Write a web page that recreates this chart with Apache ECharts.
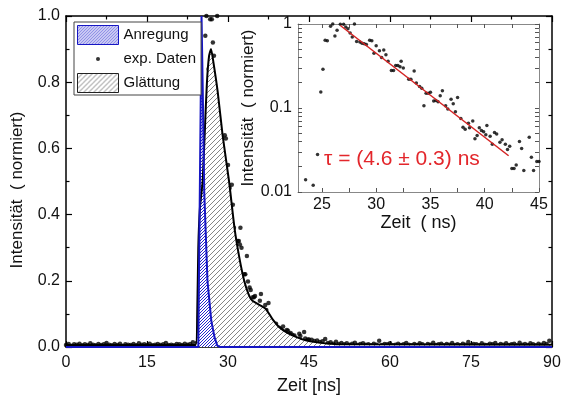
<!doctype html>
<html lang="de">
<head>
    <meta charset="UTF-8">
    <title>Anregung / Glättung</title>
    <script src="https://cdn.jsdelivr.net/npm/echarts@6/dist/echarts.min.js"></script>
    <style>
        html, body { margin: 0; padding: 0; background: #fff; }
        #chart { width: 570px; height: 400px; }
    </style>
</head>
<body>
    <div id="chart"></div>

    <script>
        // Untergrund vor dem Puls: 0 ... 23 ns, Abstand 0.5 ns
        const baseStart = 0;
        const baseStep = 0.5;
        const baseValues = [0.006, 0.009, 0.004, 0.008, 0.007, 0.010, 0.005, 0.008, 0.006, 0.011,
            0.007, 0.005, 0.009, 0.006, 0.008, 0.012, 0.007, 0.005, 0.009, 0.006,
            0.010, 0.004, 0.008, 0.007, 0.006, 0.009, 0.005, 0.011, 0.007, 0.008,
            0.006, 0.010, 0.005, 0.007, 0.009, 0.006, 0.008, 0.012, 0.006, 0.007,
            0.005, 0.009, 0.008, 0.006, 0.010, 0.007, 0.009];

        // Abklingbereich 23.5 ... 45 ns
        const decayTimes = [23.5, 24.2, 24.6, 24.9, 25.1, 25.3, 25.5, 25.8, 26.0, 26.2,
            26.4, 26.7, 27.0, 27.2, 27.4, 27.6, 27.8, 28.0, 28.2, 28.5,
            28.7, 28.9, 29.1, 29.4, 29.6, 29.8, 30.0, 30.3, 30.5, 30.7,
            30.9, 31.1, 31.4, 31.6, 31.8, 32.0, 32.2, 32.3, 32.5, 33.0,
            33.2, 33.5, 33.7, 34.0, 34.2, 34.4, 34.6, 34.8, 35.0, 35.3,
            35.5, 35.7, 35.9, 36.1, 36.4, 36.6, 36.9, 37.1, 37.3, 37.5,
            37.8, 38.0, 38.2, 38.5, 38.6, 38.9, 39.1, 39.3, 39.5, 39.7,
            39.9, 40.1, 40.2, 40.5, 40.7, 40.9, 41.1, 41.4, 41.6, 41.9,
            42.1, 42.3, 42.5, 42.7, 42.9, 43.2, 43.4, 43.6, 44.1, 44.3,
            44.5, 44.8, 45.0];
        const decayValues = [0.014, 0.012, 0.028, 0.155, 0.29, 0.64, 0.63, 0.94, 1.0, 0.72,
            0.84, 0.99, 0.99, 0.92, 0.88, 0.78, 0.70, 1.0, 0.62, 0.61,
            0.59, 0.58, 0.57, 0.64, 0.63, 0.45, 0.55, 0.48, 0.40, 0.49,
            0.43, 0.36, 0.28, 0.28, 0.32, 0.32, 0.31, 0.36, 0.30, 0.22,
            0.22, 0.275, 0.198, 0.18, 0.172, 0.106, 0.15, 0.15, 0.154, 0.121,
            0.123, 0.119, 0.14, 0.16, 0.106, 0.097, 0.127, 0.112, 0.09, 0.133,
            0.075, 0.059, 0.056, 0.066, 0.058, 0.07, 0.043, 0.047, 0.058, 0.054,
            0.052, 0.048, 0.062, 0.046, 0.037, 0.051, 0.049, 0.039, 0.042, 0.037,
            0.032, 0.035, 0.019, 0.019, 0.021, 0.040, 0.033, 0.018, 0.045, 0.026,
            0.018, 0.023, 0.023];

        // Untergrund nach dem Puls: 45.5 ... 89.5 ns, Abstand 0.5 ns
        const tailStart = 45.5;
        const tailStep = 0.5;
        const tailValues = [0.022, 0.018, 0.020, 0.015, 0.017, 0.024, 0.012, 0.014, 0.010, 0.016,
            0.009, 0.012, 0.008, 0.011, 0.007, 0.010, 0.013, 0.006, 0.009, 0.011,
            0.007, 0.008, 0.005, 0.010, 0.007, 0.019, 0.006, 0.009, 0.008, 0.011,
            0.005, 0.007, 0.010, 0.006, 0.008, 0.012, 0.007, 0.005, 0.009, 0.006,
            0.011, 0.008, 0.004, 0.009, 0.007, 0.013, 0.006, 0.008, 0.010, 0.005,
            0.009, 0.007, 0.012, 0.006, 0.008, 0.005, 0.010, 0.007, 0.015, 0.006,
            0.009, 0.008, 0.005, 0.011, 0.007, 0.006, 0.010, 0.008, 0.012, 0.005,
            0.009, 0.007, 0.011, 0.006, 0.008, 0.010, 0.005, 0.013, 0.007, 0.009,
            0.006, 0.011, 0.008, 0.005, 0.010, 0.007, 0.012, 0.009, 0.019];

        // Geglättete Kurve
        const smoothTimes = [0, 24.0, 24.3, 24.5, 24.8, 25.3, 25.7, 26.1, 26.5, 26.85,
            27.3, 28.1, 29.0, 30.2, 31.2, 32.1, 33.0, 33.8, 34.5, 35.5,
            37.0, 38.2, 39.5, 41.0, 42.7, 44.4, 46.5, 48.8, 50.0, 90];
        const smoothValues = [0.006, 0.006, 0.1, 0.3, 0.42, 0.5, 0.65, 0.8, 0.88, 0.9,
            0.86, 0.77, 0.64, 0.5, 0.36, 0.27, 0.2, 0.16, 0.14, 0.13,
            0.115, 0.085, 0.06, 0.043, 0.03, 0.02, 0.014, 0.01, 0.008, 0.007];

        // Anregungspuls
        const pulseTimes = [0, 24.5, 24.8, 25.1, 25.35, 25.6, 26.2, 26.9, 27.5, 28.0, 28.5, 90];
        const pulseValues = [0, 0, 0.5, 1.0, 0.75, 0.47, 0.2, 0.08, 0.03, 0.005, 0, 0];

        // Exponentieller Fit (Inset)
        const fitTimes = [26.7, 42.2];
        const fitValues = [0.96, 0.027];

        // Achsen
        const insetXLabels = [25, 30, 35, 40, 45];
        const insetXTicks = [25, 27.5, 30, 32.5, 35, 37.5, 40, 42.5, 45];
        const insetYLabels = [0.01, 0.1, 1];
        const insetYTicks = [0.01, 0.02, 0.03, 0.04, 0.05, 0.06, 0.07, 0.08, 0.09,
            0.1, 0.2, 0.3, 0.4, 0.5, 0.6, 0.7, 0.8, 0.9, 1];

        const zip = (t, v) => t.map((x, i) => [x, v[i]]);
        const expData = []
            .concat(baseValues.map((v, i) => [baseStart + i * baseStep, v]))
            .concat(zip(decayTimes, decayValues))
            .concat(tailValues.map((v, i) => [tailStart + i * tailStep, v]));
        const insetData = zip(decayTimes, decayValues);

        // Schraffur als Canvas-Muster
        function hatch(color, step, width) {
            const c = document.createElement('canvas');
            c.width = c.height = step;
            const g = c.getContext('2d');
            g.fillStyle = '#fff';
            g.fillRect(0, 0, step, step);
            g.strokeStyle = color;
            g.lineWidth = width;
            g.beginPath();
            g.moveTo(-1, 1); g.lineTo(1, -1);
            g.moveTo(0, step); g.lineTo(step, 0);
            g.moveTo(step - 1, step + 1); g.lineTo(step + 1, step - 1);
            g.stroke();
            return c;
        }
        const bluePat = { image: hatch('#2424d0', 3, 1), repeat: 'repeat' };
        const grayPat = { image: hatch('#666', 5, 0.8), repeat: 'repeat' };

        const font = 'Liberation Sans';
        const blue = '#1616c4';
        const dotIcon = 'path://M0,0M41,0M41,19M0,19M18.5,9.5a2,2 0 1,0 4,0a2,2 0 1,0 -4,0z';

        const mainLine = { onZero: false, lineStyle: { color: '#000', width: 1.5 } };
        const mainTick = { inside: true, length: 6, lineStyle: { color: '#000', width: 1.2 } };
        const mainMinor = { show: true, splitNumber: 2, length: 3.5, lineStyle: { color: '#000', width: 1.2 } };
        const insetLine = { onZero: false, lineStyle: { color: '#888', width: 1 } };
        const labelStyle = { fontSize: 16, color: '#111', fontFamily: font };

        const chart = echarts.init(document.getElementById('chart'));
        chart.setOption({
            animation: false,
            textStyle: { fontFamily: font },
            title: {
                text: 'τ = (4.6 ± 0.3) ns',
                left: 324, top: 149, padding: 0,
                textStyle: { color: '#e3262b', fontSize: 21, fontWeight: 'normal', fontFamily: font }
            },
            legend: {
                left: 74, top: 22, orient: 'vertical',
                selectedMode: false,
                backgroundColor: '#fff', borderColor: '#444', borderWidth: 1,
                padding: [3, 5, 2, 3], itemGap: 4.5, itemWidth: 41, itemHeight: 19,
                textStyle: { fontSize: 15, color: '#111', fontFamily: font },
                data: [
                    { name: 'Anregung', icon: 'rect', itemStyle: { color: bluePat, borderColor: blue, borderWidth: 1 } },
                    { name: 'exp. Daten', icon: dotIcon, itemStyle: { color: '#000' } },
                    { name: 'Glättung', icon: 'rect', itemStyle: { color: grayPat, borderColor: '#222', borderWidth: 1 } }
                ]
            },
            grid: [
                { left: 66, right: 18, top: 16, bottom: 53 },
                { left: 298, top: 24, width: 241, height: 168, show: true, backgroundColor: '#fff', borderWidth: 0 }
            ],
            xAxis: [
                {
                    type: 'value', gridIndex: 0, min: 0, max: 90, interval: 15,
                    axisLine: mainLine, axisTick: mainTick, minorTick: mainMinor,
                    splitLine: { show: false },
                    axisLabel: Object.assign({ margin: 8 }, labelStyle),
                    name: 'Zeit [ns]', nameLocation: 'middle', nameGap: 30,
                    nameTextStyle: { fontSize: 18, color: '#111', fontFamily: font }
                },
                {
                    type: 'value', gridIndex: 0, position: 'top', min: 0, max: 90, interval: 15,
                    axisLine: mainLine, axisTick: mainTick, minorTick: mainMinor,
                    splitLine: { show: false }, axisLabel: { show: false }
                },
                {
                    type: 'value', gridIndex: 1, min: 22.8, max: 45,
                    axisLine: insetLine,
                    axisTick: { inside: true, length: 4, customValues: insetXTicks, lineStyle: { color: '#555' } },
                    splitLine: { show: false },
                    axisLabel: { customValues: insetXLabels, margin: 5, fontSize: 16, color: '#111', fontFamily: font },
                    name: 'Zeit  ( ns)', nameLocation: 'middle', nameGap: 15,
                    nameTextStyle: { fontSize: 18, color: '#111', fontFamily: font }
                },
                {
                    type: 'value', gridIndex: 1, position: 'top', min: 22.8, max: 45,
                    axisLine: insetLine,
                    axisTick: { inside: true, length: 4, customValues: insetXTicks, lineStyle: { color: '#555' } },
                    splitLine: { show: false }, axisLabel: { show: false }
                }
            ],
            yAxis: [
                {
                    type: 'value', gridIndex: 0, min: 0, max: 1, interval: 0.2,
                    axisLine: mainLine, axisTick: mainTick, minorTick: mainMinor,
                    splitLine: { show: false },
                    axisLabel: Object.assign({ margin: 6, formatter: v => v.toFixed(1) }, labelStyle),
                    name: 'Intensität  ( normiert)', nameLocation: 'middle', nameGap: 40,
                    nameTextStyle: { fontSize: 17, color: '#111', fontFamily: font, padding: [0, 17, 0, 0] }
                },
                {
                    type: 'value', gridIndex: 0, position: 'right', min: 0, max: 1, interval: 0.2,
                    axisLine: mainLine, axisTick: mainTick, minorTick: mainMinor,
                    splitLine: { show: false }, axisLabel: { show: false }
                },
                {
                    type: 'log', logBase: 10, gridIndex: 1, min: 0.01, max: 1,
                    axisLine: insetLine,
                    axisTick: { inside: true, length: 4, customValues: insetYTicks, lineStyle: { color: '#555' } },
                    splitLine: { show: false },
                    axisLabel: { customValues: insetYLabels, margin: 6, fontSize: 16, color: '#111', fontFamily: font },
                    name: 'Intensität  ( normiert)', nameLocation: 'middle', nameGap: 34,
                    nameTextStyle: { fontSize: 17, color: '#111', fontFamily: font }
                },
                {
                    type: 'log', logBase: 10, gridIndex: 1, position: 'right', min: 0.01, max: 1,
                    axisLine: insetLine,
                    axisTick: { inside: true, length: 4, customValues: insetYTicks, lineStyle: { color: '#555' } },
                    splitLine: { show: false }, axisLabel: { show: false }
                }
            ],
            series: [
                {
                    name: 'Glättung', type: 'line', xAxisIndex: 0, yAxisIndex: 0,
                    data: zip(smoothTimes, smoothValues),
                    symbol: 'none', smooth: 0.2,
                    lineStyle: { color: '#000', width: 2 },
                    itemStyle: { color: '#000' },
                    areaStyle: { color: grayPat, opacity: 1 }
                },
                {
                    name: 'Anregung', type: 'line', xAxisIndex: 0, yAxisIndex: 0,
                    data: zip(pulseTimes, pulseValues),
                    symbol: 'none',
                    lineStyle: { color: blue, width: 2 },
                    itemStyle: { color: blue },
                    areaStyle: { color: bluePat, opacity: 1 }
                },
                {
                    name: 'exp. Daten', type: 'scatter', xAxisIndex: 0, yAxisIndex: 0,
                    data: expData, symbolSize: 4.5,
                    itemStyle: { color: '#000' }
                },
                {
                    name: 'inset', type: 'scatter', xAxisIndex: 2, yAxisIndex: 2,
                    data: insetData, symbolSize: 3.5,
                    itemStyle: { color: '#000' }
                },
                {
                    name: 'Fit', type: 'line', xAxisIndex: 2, yAxisIndex: 2,
                    data: zip(fitTimes, fitValues), symbol: 'none',
                    lineStyle: { color: '#d42424', width: 1.5 }
                }
            ]
        });
    </script>
</body>
</html>
